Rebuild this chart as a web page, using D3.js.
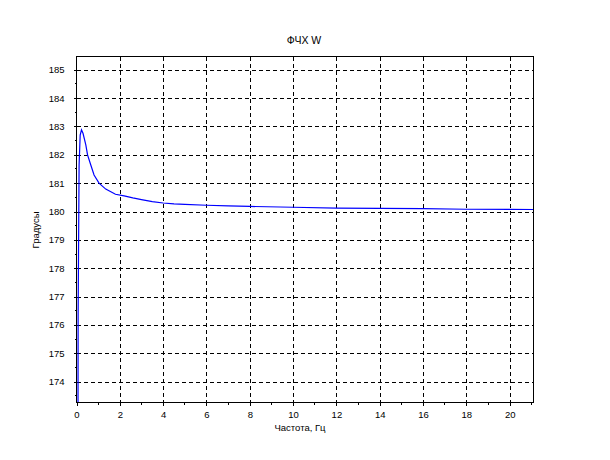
<!DOCTYPE html>
<meta charset="utf-8">
<style>
body { margin: 0; background: #fff; }
text { font-family: "Liberation Sans", Arial, sans-serif; fill: #000; }
.grid line { stroke: #000; stroke-width: 1px; stroke-dasharray: 4,3; shape-rendering: crispEdges; }
.axis line, .axis path { stroke: #000; stroke-width: 1px; shape-rendering: crispEdges; }
.axis text { font-size: 9.5px; }
.curve { fill: none; stroke: #0000ff; stroke-width: 1.2px; }
</style>
<svg width="610" height="460"></svg>
<script src="https://d3js.org/d3.v7.min.js"></script>
<script>

// values
var freq  = [0.07, 0.075, 0.12, 0.17, 0.23, 0.30, 0.43, 0.51, 0.66, 0.81, 1.04, 1.35, 1.80, 2.2, 2.6, 3.0, 3.5, 4.0, 4.5, 5, 6, 7, 8, 10, 12, 14, 16, 18, 21.1];
var phase = [173.26, 176.3, 181.64, 182.70, 182.88, 182.76, 182.35, 182.0, 181.64, 181.29, 181.0, 180.79, 180.61, 180.55, 180.48, 180.42, 180.35, 180.30, 180.27, 180.25, 180.22, 180.2, 180.18, 180.15, 180.12, 180.11, 180.1, 180.08, 180.07];

var xTicks = [0, 2, 4, 6, 8, 10, 12, 14, 16, 18, 20];
var xMinor = [1, 3, 5, 7, 9, 11, 13, 15, 17, 19, 21];
var yTicks = [174, 175, 176, 177, 178, 179, 180, 181, 182, 183, 184, 185];
var yMinor = [173.5, 174.5, 175.5, 176.5, 177.5, 178.5, 179.5, 180.5, 181.5, 182.5, 183.5, 184.5];

var title = "ФЧХ W",
    xTitle = "Частота, Гц",
    yTitle = "Градусы";

var svg = d3.select("svg"),
    pLeft = 76.5, pRight = 533.5, pTop = 56.5, pBottom = 402.5;

var x = d3.scaleLinear().domain([0, 21.1]).range([pLeft, pRight]),
    y = d3.scaleLinear().domain([173.26, 185.47]).range([pBottom, pTop]);

// dashed grid
var grid = svg.append("g").attr("class", "grid");
grid.selectAll(".gx")
    .data(xTicks.filter(function(d) { return d > 0; }))
  .enter().append("line")
    .attr("x1", function(d) { return Math.round(x(d)) + 0.5; })
    .attr("x2", function(d) { return Math.round(x(d)) + 0.5; })
    .attr("y1", pTop).attr("y2", pBottom);
grid.selectAll(".gy")
    .data(yTicks)
  .enter().append("line")
    .attr("y1", function(d) { return Math.round(y(d)) + 0.5; })
    .attr("y2", function(d) { return Math.round(y(d)) + 0.5; })
    .attr("x1", pLeft).attr("x2", pRight);

// curve
var line = d3.line()
    .x(function(d, i) { return x(freq[i]); })
    .y(function(d, i) { return y(phase[i]); });

svg.append("path")
    .datum(phase)
    .attr("class", "curve")
    .attr("d", line);

// box
svg.append("rect")
    .attr("x", pLeft).attr("y", pTop)
    .attr("width", pRight - pLeft).attr("height", pBottom - pTop)
    .attr("fill", "none").attr("stroke", "#000")
    .style("shape-rendering", "crispEdges");

// axes
var xAxis = svg.append("g")
    .attr("class", "axis")
    .attr("transform", "translate(0," + pBottom + ")")
    .call(d3.axisBottom(x).tickValues(xTicks).tickSize(3).tickPadding(6).tickFormat(d3.format("d")));
xAxis.select(".domain").remove();
xAxis.selectAll(".minor")
    .data(xMinor)
  .enter().append("line")
    .attr("x1", function(d) { return x(d); })
    .attr("x2", function(d) { return x(d); })
    .attr("y1", 0).attr("y2", 2);

var yAxis = svg.append("g")
    .attr("class", "axis")
    .attr("transform", "translate(" + pLeft + ",0)")
    .call(d3.axisLeft(y).tickValues(yTicks).tickSize(3).tickPadding(9).tickFormat(d3.format("d")));
yAxis.select(".domain").remove();
yAxis.selectAll(".minor")
    .data(yMinor)
  .enter().append("line")
    .attr("y1", function(d) { return y(d); })
    .attr("y2", function(d) { return y(d); })
    .attr("x1", 0).attr("x2", -2);

// titles
svg.append("text")
    .attr("x", 304).attr("y", 44)
    .attr("text-anchor", "middle")
    .style("font-size", "10.5px")
    .text(title);

svg.append("text")
    .attr("x", 300).attr("y", 431)
    .attr("text-anchor", "middle")
    .style("font-size", "9.5px")
    .text(xTitle);

svg.append("text")
    .attr("transform", "translate(39,230) rotate(-90)")
    .attr("text-anchor", "middle")
    .style("font-size", "9.5px")
    .text(yTitle);

</script>
